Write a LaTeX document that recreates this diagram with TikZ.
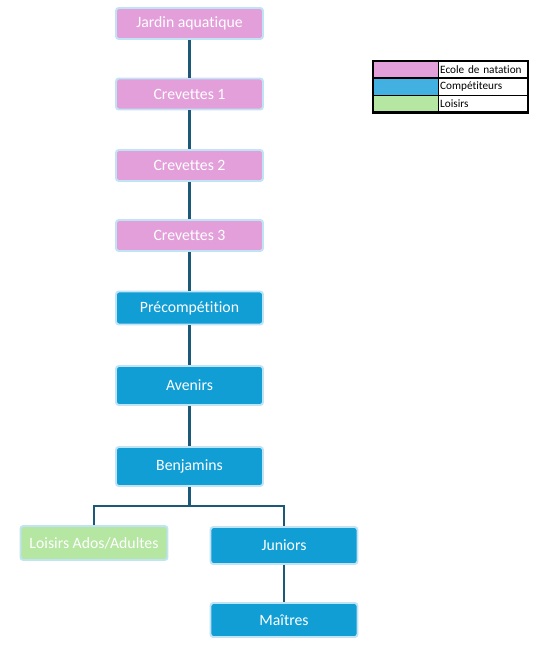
\documentclass[tikz,border=0pt]{standalone}
\usepackage{fontspec}
\setmainfont[Ligatures={NoCommon}]{Carlito}
\usetikzlibrary{positioning}
\definecolor{SwimPink}{RGB}{227,159,218}
\definecolor{SwimBlue}{RGB}{16,158,213}
\definecolor{SwimGreen}{RGB}{181,230,162}
\definecolor{EdgeBlue}{RGB}{192,228,245}
\definecolor{LinkTeal}{RGB}{28,88,120}
\definecolor{KeyBlue}{RGB}{66,176,224}
\tikzset{
  link/.style={draw=LinkTeal,line width=1.6pt},
  level/.style={draw=EdgeBlue,line width=1.4pt,rounded corners=2pt,
    minimum width=147*0.025cm,text=white,font=\fontsize{11.2}{13}\selectfont},
  pinkbox/.style={level,fill=SwimPink,minimum height=31*0.025cm},
  bluebox/.style={level,fill=SwimBlue,minimum height=33*0.025cm},
  greenbox/.style={level,fill=SwimGreen,minimum height=34*0.025cm},
  keycell/.style={draw=black,line width=0.5pt,minimum width=65*0.025cm,
    minimum height=16.5*0.025cm,inner sep=0pt},
  keytext/.style={draw=black,line width=0.5pt,minimum width=89*0.025cm,
    minimum height=16.5*0.025cm,inner sep=1pt,text width=86*0.025cm,
    align=left,font=\fontsize{8}{9}\selectfont}
}
\begin{document}
\begin{tikzpicture}[x=0.025cm,y=-0.025cm]
  \useasboundingbox (0,0) rectangle (554,645);
  % levels
  \node[pinkbox] (jardin) at (189.5,23.5) {Jardin aquatique};
  \node[pinkbox] (crev1) at (189.5,94) {Crevettes 1};
  \node[pinkbox] (crev2) at (189.5,165.5) {Crevettes 2};
  \node[pinkbox] (crev3) at (189.5,235.5) {Crevettes 3};
  \node[bluebox] (precomp) at (189.5,308) {Précompétition};
  \node[bluebox,minimum height=39*0.025cm] (avenirs) at (189.5,385.5) {Avenirs};
  \node[bluebox,minimum height=39*0.025cm] (benjamins) at (189.5,466.5) {Benjamins};
  \node[greenbox] (loisirs) at (94,543) {Loisirs Ados/Adultes};
  \node[bluebox,minimum height=37*0.025cm] (juniors) at (284,545.5) {Juniors};
  \node[bluebox,minimum height=34*0.025cm] (maitres) at (284,620) {Maîtres};
  % links
  \draw[link] (jardin) -- (crev1);
  \draw[link] (crev1) -- (crev2);
  \draw[link] (crev2) -- (crev3);
  \draw[link] (crev3) -- (precomp);
  \draw[link] (precomp) -- (avenirs);
  \draw[link] (avenirs) -- (benjamins);
  \coordinate (split) at (189.5,506);
  \draw[link] (benjamins) -- (split);
  \draw[link] (loisirs.north) -- (loisirs.north |- split) -- (juniors.north |- split) -- (juniors.north);
  \draw[link] (juniors) -- (maitres);
  % legend
  \node[keycell,fill=SwimPink] (keyA) at (405.5,69.5) {};
  \node[keycell,fill=KeyBlue,below=0pt of keyA] (keyB) {};
  \node[keycell,fill=SwimGreen,below=0pt of keyB] (keyC) {};
  \node[keytext,right=0pt of keyA] (textA) {Ecole de natation};
  \node[keytext,right=0pt of keyB] (textB) {Compétiteurs};
  \node[keytext,right=0pt of keyC] (textC) {Loisirs};
  \draw[line width=1.5pt] (keyA.north west) rectangle (textC.south east);
\end{tikzpicture}
\end{document}
